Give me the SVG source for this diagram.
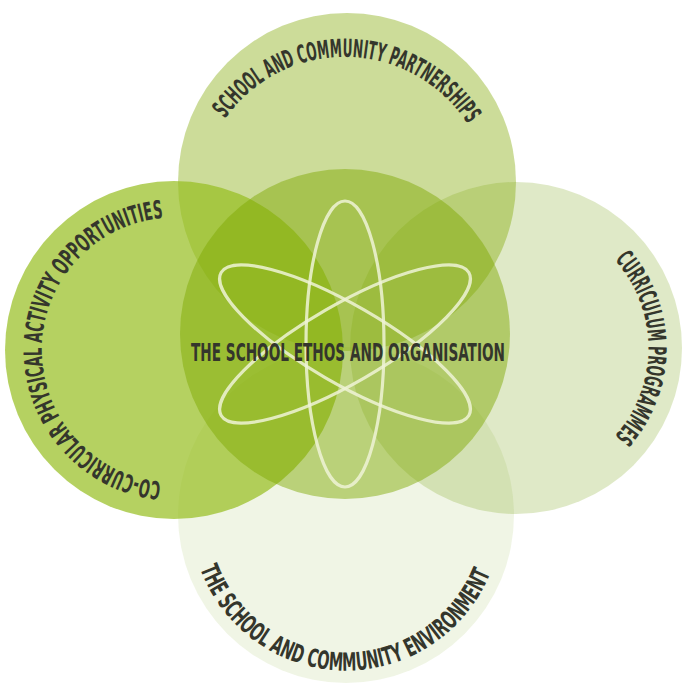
<svg xmlns="http://www.w3.org/2000/svg" width="683" height="689" viewBox="0 0 683 689">
  <style>
    .lbl { font-family: "DejaVu Sans Condensed", "DejaVu Sans", "Liberation Sans", sans-serif; font-weight: bold; font-size: 25px; fill: #34362c; }
    .orbit { fill: none; stroke: #eef3d6; stroke-opacity: 0.85; stroke-width: 3.2; }
  </style>
  <defs>
    <path id="pTop" d="M225.1,118.6 A146.5,146.5 0 0 1 469.2,126.4"/>
    <path id="pLeft" d="M161.3,481.9 A132.5,132.5 0 0 1 163.2,218.0"/>
    <path id="pRight" d="M614.7,260.0 A131.5,131.5 0 0 1 614.7,436.0"/>
    <path id="pBottom" d="M200.1,568.7 A155.5,155.5 0 0 0 490.2,573.3"/>
  </defs>
  <rect width="683" height="689" fill="#ffffff"/>

  <g id="bottom">
    <circle cx="346" cy="515" r="168" fill="#78a514" fill-opacity="0.11"/>
    <text class="lbl"><textPath href="#pBottom" textLength="374" lengthAdjust="spacingAndGlyphs">THE SCHOOL AND COMMUNITY ENVIRONMENT</textPath></text>
  </g>
  <g id="right">
    <circle cx="516" cy="348" r="166" fill="#78a514" fill-opacity="0.24"/>
    <text class="lbl"><textPath href="#pRight" textLength="193" lengthAdjust="spacingAndGlyphs">CURRICULUM PROGRAMMES</textPath></text>
  </g>
  <g id="top">
    <circle cx="347" cy="182" r="169" fill="#80a800" fill-opacity="0.4"/>
    <text class="lbl"><textPath href="#pTop" textLength="286" lengthAdjust="spacingAndGlyphs">SCHOOL AND COMMUNITY PARTNERSHIPS</textPath></text>
  </g>
  <g id="left">
    <circle cx="174" cy="350" r="169" fill="#96be1e" fill-opacity="0.7"/>
    <text class="lbl"><textPath href="#pLeft" textLength="392" lengthAdjust="spacingAndGlyphs">CO-CURRICULAR PHYSICAL ACTIVITY OPPORTUNITIES</textPath></text>
  </g>
  <g id="center">
    <circle cx="345" cy="334" r="165" fill="#7da800" fill-opacity="0.47"/>
    <g id="atom">
      <ellipse class="orbit" cx="345" cy="344" rx="143" ry="39" transform="rotate(90 345 344)"/>
      <ellipse class="orbit" cx="345" cy="344" rx="143" ry="39" transform="rotate(30 345 344)"/>
      <ellipse class="orbit" cx="345" cy="344" rx="143" ry="39" transform="rotate(-30 345 344)"/>
    </g>
    <text class="lbl" x="348" y="361" text-anchor="middle" textLength="314" lengthAdjust="spacingAndGlyphs">THE SCHOOL ETHOS AND ORGANISATION</text>
  </g>
  <g id="connectors"/>
</svg>
